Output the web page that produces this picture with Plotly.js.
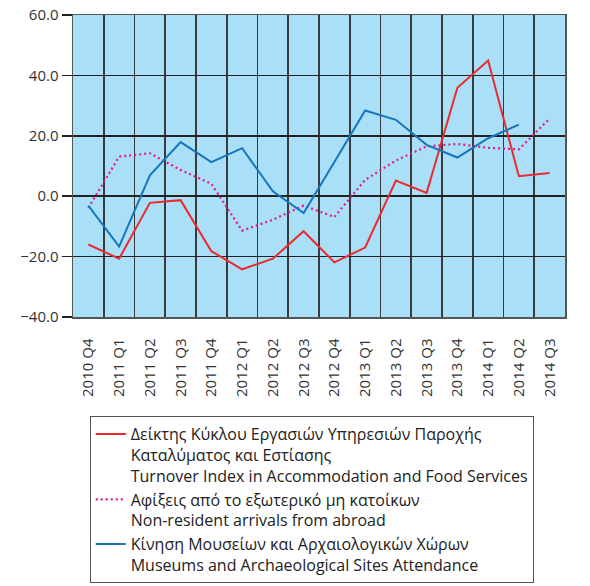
<!DOCTYPE html>
<html>
<head>
<meta charset="utf-8">
<script src="https://cdn.plot.ly/plotly-3.0.1.min.js"></script>
<style>html,body{margin:0;padding:0;background:#fff;}#chart{width:590px;height:586px;}</style>
</head>
<body>
<div id="chart"></div>
<script>
const quarters = ["2010 Q4","2011 Q1","2011 Q2","2011 Q3","2011 Q4","2012 Q1","2012 Q2","2012 Q3","2012 Q4","2013 Q1","2013 Q2","2013 Q3","2013 Q4","2014 Q1","2014 Q2","2014 Q3"];
const turnover = [-16.0,-20.7,-2.2,-1.3,-18.2,-24.2,-20.7,-11.6,-21.9,-17.0,5.2,1.1,35.9,44.9,6.6,7.7];
const arrivals = [-3.9,13.1,14.2,8.7,4.1,-11.4,-7.8,-3.1,-6.9,5.4,11.8,16.5,17.3,16.0,15.5,25.7];
const museums = [-3.1,-16.7,6.9,17.9,11.3,15.9,1.6,-5.6,11.3,28.4,25.3,17.0,12.8,19.2,23.7,null];
const yTicks = [-40,-20,0,20,40,60];
const names = [
  "Δείκτης Κύκλου Εργασιών Υπηρεσιών Παροχής<br>Καταλύματος και Εστίασης<br>Turnover Index in Accommodation and Food Services",
  "Αφίξεις από το εξωτερικό μη κατοίκων<br>Non-resident arrivals from abroad",
  "Κίνηση Μουσείων και Αρχαιολογικών Χώρων<br>Museums and Archaeological Sites Attendance"
];

const traces = [
  {x: quarters, y: turnover, name: names[0], type: 'scatter', mode: 'lines',
   line: {color: '#ec2a2e', width: 2}},
  {x: quarters, y: arrivals, name: names[1], type: 'scatter', mode: 'lines',
   line: {color: '#e2188f', width: 2.2, dash: '2px,3px'}},
  {x: quarters, y: museums, name: names[2], type: 'scatter', mode: 'lines',
   line: {color: '#1776bb', width: 2}}
];

const layout = {
  width: 590, height: 586,
  margin: {l: 73, r: 25, t: 15, b: 269, autoexpand: false},
  paper_bgcolor: '#ffffff',
  plot_bgcolor: '#aadff8',
  font: {family: '"Open Sans", sans-serif', size: 14, color: '#333333'},
  showlegend: true,
  xaxis: {
    type: 'category', range: [-0.5, 15.5], tickson: 'boundaries', automargin: false,
    showgrid: true, gridcolor: '#3a3a3a', gridwidth: 1.6,
    showline: true, mirror: true, linecolor: '#555555', linewidth: 1.5,
    ticks: '', tickangle: -90, ticklabelstandoff: 14,
    tickfont: {size: 15, color: '#333333'}, fixedrange: true
  },
  yaxis: {
    range: [-40, 60], tickvals: yTicks, tickformat: '.1f', automargin: false,
    showgrid: true, gridcolor: '#222222', gridwidth: 1.5, zeroline: false,
    showline: true, mirror: true, linecolor: '#555555', linewidth: 1.5,
    ticks: 'outside', ticklen: 10, tickcolor: '#222222', tickwidth: 1.5,
    tickfont: {size: 15, color: '#333333'}, fixedrange: true
  },
  legend: {
    x: 0.034, xanchor: 'left', y: -0.328, yanchor: 'top',
    orientation: 'v', valign: 'top', itemwidth: 30,
    bgcolor: '#ffffff', bordercolor: '#555555', borderwidth: 1,
    font: {size: 16, color: '#222222'}, tracegroupgap: 0
  }
};

Plotly.newPlot('chart', traces, layout, {displayModeBar: false, staticPlot: true});
</script>
</body>
</html>
